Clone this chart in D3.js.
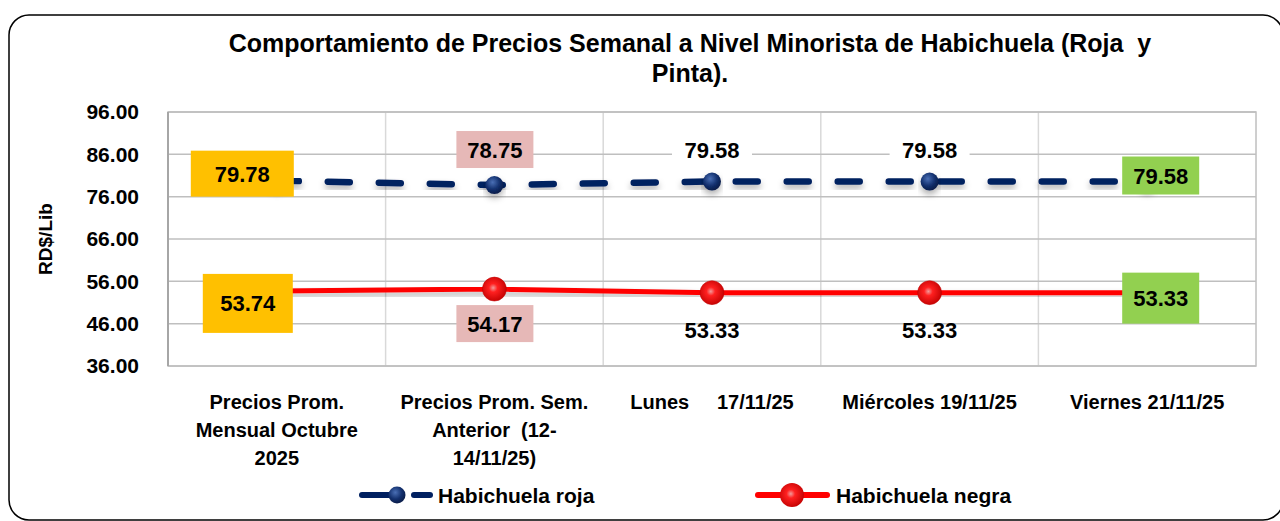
<!DOCTYPE html>
<html>
<head>
<meta charset="utf-8">
<script src="https://cdn.jsdelivr.net/npm/d3@7"></script>
<style>
  body { margin: 0; background: #fff; }
  svg { display: block; font-family: "Liberation Sans", Arial, sans-serif; font-weight: bold; }
</style>
</head>
<body>
<div id="viz"></div>
<script>
// data
let categories = [
  ["Precios Prom.", "Mensual Octubre", "2025"],
  ["Precios Prom. Sem.", "Anterior  (12-", "14/11/25)"],
  ["Lunes     17/11/25"],
  ["Miércoles 19/11/25"],
  ["Viernes 21/11/25"]
];
let roja = [79.78, 78.75, 79.58, 79.58, 79.58];
let negra = [53.74, 54.17, 53.33, 53.33, 53.33];
let yTicks = [36, 46, 56, 66, 76, 86, 96];
let seriesNames = ["Habichuela roja", "Habichuela negra"];

let w = 1280, h = 521;
let pLeft = 168, pRight = 1256, pTop = 112, pBottom = 366;

let svg = d3.select("#viz").append("svg").attr("width", w).attr("height", h);

let defs = svg.append("defs");
let gBlue = defs.append("radialGradient").attr("id", "gBlue").attr("cx", "40%").attr("cy", "35%").attr("r", "65%");
gBlue.append("stop").attr("offset", "0%").attr("stop-color", "#4a6fb5");
gBlue.append("stop").attr("offset", "60%").attr("stop-color", "#13306e");
gBlue.append("stop").attr("offset", "100%").attr("stop-color", "#0a1d4a");
let gRed = defs.append("radialGradient").attr("id", "gRed").attr("cx", "45%").attr("cy", "45%").attr("r", "60%");
gRed.append("stop").attr("offset", "0%").attr("stop-color", "#f29a9a");
gRed.append("stop").attr("offset", "30%").attr("stop-color", "#ff2020");
gRed.append("stop").attr("offset", "100%").attr("stop-color", "#c00000");
let shadow = defs.append("filter").attr("id", "shadow").attr("x", "-10%").attr("y", "-50%").attr("width", "120%").attr("height", "250%");
shadow.append("feDropShadow").attr("dx", 0).attr("dy", 4).attr("stdDeviation", 3).attr("flood-color", "#000").attr("flood-opacity", 0.3);

// outer border
svg.append("rect").attr("x", 9).attr("y", 15).attr("width", 1274).attr("height", 505)
  .attr("rx", 20).attr("fill", "#fff").attr("stroke", "#000").attr("stroke-width", 1.5);

// title
let title = svg.append("text").attr("x", 690).attr("text-anchor", "middle").attr("font-size", 25)
  .attr("fill", "#000").attr("xml:space", "preserve");
title.append("tspan").attr("x", 690).attr("y", 52).text("Comportamiento de Precios Semanal a Nivel Minorista de Habichuela (Roja  y");
title.append("tspan").attr("x", 690).attr("y", 82).text("Pinta).");

let x = d3.scaleBand().domain(d3.range(categories.length)).range([pLeft, pRight]);
let y = d3.scaleLinear().domain([36, 96]).range([pBottom, pTop]);
let cx = i => x(i) + x.bandwidth() / 2;

// grid
let grid = svg.append("g");
grid.selectAll(".v").data(d3.range(1, categories.length)).join("line")
  .attr("x1", d => x(d)).attr("x2", d => x(d)).attr("y1", pTop).attr("y2", pBottom)
  .attr("stroke", "#d9d9d9").attr("stroke-width", 1.5);
grid.selectAll(".h").data(yTicks).join("line")
  .attr("x1", pLeft).attr("x2", pRight).attr("y1", d => y(d)).attr("y2", d => y(d))
  .attr("stroke", "#bfbfbf").attr("stroke-width", 1.5);
grid.append("rect").attr("x", pLeft).attr("y", pTop).attr("width", pRight - pLeft).attr("height", pBottom - pTop)
  .attr("fill", "none").attr("stroke", "#bfbfbf").attr("stroke-width", 1.5);
grid.append("line").attr("x1", pLeft).attr("x2", pLeft).attr("y1", pTop).attr("y2", pBottom)
  .attr("stroke", "#a6a6a6").attr("stroke-width", 2);

// y axis
let yAxis = svg.append("g").attr("transform", "translate(" + pLeft + ",0)")
  .call(d3.axisLeft(y).tickValues(yTicks).tickFormat(d3.format(".2f")).tickSize(0).tickPadding(29));
yAxis.select(".domain").remove();
yAxis.selectAll("text").attr("font-size", 21).attr("font-family", "Liberation Sans, Arial, sans-serif")
  .attr("font-weight", "bold").attr("fill", "#000");

svg.append("text").attr("transform", "translate(52," + ((pTop + pBottom) / 2) + ") rotate(-90)")
  .attr("text-anchor", "middle").attr("font-size", 19).text("RD$/Lib");

// x labels
let xl = svg.append("g");
categories.forEach((lines, i) => {
  let t = xl.append("text").attr("text-anchor", "middle").attr("font-size", 20).attr("xml:space", "preserve");
  lines.forEach((s, j) => {
    t.append("tspan").attr("x", cx(i)).attr("y", 409 + j * 28).text(s);
  });
});

// lines
let line = d3.line().x((d, i) => cx(i)).y(d => y(d));
svg.append("path").datum(negra).attr("d", line).attr("fill", "none")
  .attr("stroke", "#ff0000").attr("stroke-width", 5).attr("filter", "url(#shadow)");
svg.append("path").datum(roja).attr("d", line).attr("fill", "none")
  .attr("stroke", "#002060").attr("stroke-width", 6.5).attr("stroke-linecap", "round")
  .attr("stroke-dasharray", "22,29").attr("filter", "url(#shadow)");

// markers
svg.selectAll(".mr").data(roja).join("circle")
  .attr("cx", (d, i) => cx(i)).attr("cy", d => y(d)).attr("r", 9).attr("fill", "url(#gBlue)")
  .attr("filter", "url(#shadow)");
svg.selectAll(".mn").data(negra).join("circle")
  .attr("cx", (d, i) => cx(i)).attr("cy", d => y(d)).attr("r", 12).attr("fill", "url(#gRed)")
  .attr("stroke", "#c00000").attr("stroke-width", 0.5);

// data labels: [dx1, dx2, dy1, dy2] box relative to point, fill
let rojaBoxes = [
  [-86, 17, -30, 16, "#ffc000"],
  [-38, 39, -54, -17, "#e6b8b7"],
  [-40, 40, -45, -19, "#ffffff"],
  [-40, 40, -45, -19, "#ffffff"],
  [-25, 52, -25, 13, "#92d050"]
];
let negraBoxes = [
  [-74, 16, -17, 42, "#ffc000"],
  [-38, 39, 16, 53, "#e6b8b7"],
  [-40, 40, 24, 50, "none"],
  [-40, 40, 24, 50, "none"],
  [-25, 52, -20, 31, "#92d050"]
];
function labels(values, boxes) {
  let g = svg.append("g").selectAll("g").data(values).join("g")
    .attr("transform", (d, i) => "translate(" + cx(i) + "," + y(d) + ")");
  g.append("rect")
    .attr("x", (d, i) => boxes[i][0]).attr("y", (d, i) => boxes[i][2])
    .attr("width", (d, i) => boxes[i][1] - boxes[i][0]).attr("height", (d, i) => boxes[i][3] - boxes[i][2])
    .attr("fill", (d, i) => boxes[i][4]);
  g.append("text").attr("text-anchor", "middle").attr("font-size", 22).attr("fill", "#000")
    .attr("x", (d, i) => (boxes[i][0] + boxes[i][1]) / 2)
    .attr("y", (d, i) => (boxes[i][2] + boxes[i][3]) / 2 + 8)
    .text(d => d3.format(".2f")(d));
}
labels(roja, rojaBoxes);
labels(negra, negraBoxes);

// legend
let lg = svg.append("g").attr("transform", "translate(0,495)");
lg.append("line").attr("x1", 362).attr("x2", 395).attr("stroke", "#002060").attr("stroke-width", 6).attr("stroke-linecap", "round");
lg.append("line").attr("x1", 414).attr("x2", 430).attr("stroke", "#002060").attr("stroke-width", 6).attr("stroke-linecap", "round");
lg.append("circle").attr("cx", 397).attr("r", 8.5).attr("fill", "url(#gBlue)");
lg.append("text").attr("x", 438).attr("y", 8).attr("font-size", 21).text(seriesNames[0]);
lg.append("line").attr("x1", 758).attr("x2", 827).attr("stroke", "#ff0000").attr("stroke-width", 6).attr("stroke-linecap", "round");
lg.append("circle").attr("cx", 792).attr("r", 12).attr("fill", "url(#gRed)");
lg.append("text").attr("x", 836).attr("y", 8).attr("font-size", 21).text(seriesNames[1]);
</script>
</body>
</html>
